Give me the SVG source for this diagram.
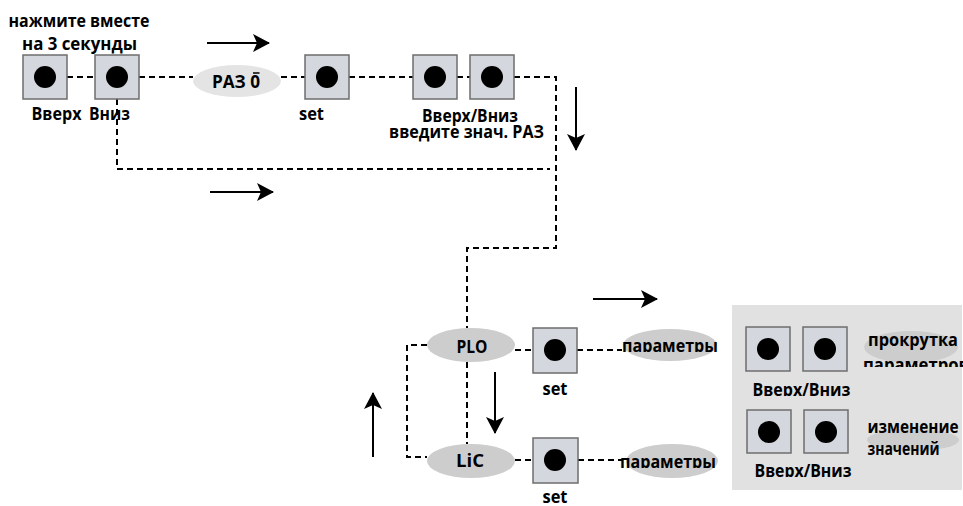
<svg xmlns="http://www.w3.org/2000/svg" width="963" height="506" viewBox="0 0 963 506">
<style>
text{font-family:"Open Sans","Liberation Sans",sans-serif;font-weight:bold;font-size:17.5px;fill:#000}
.m{text-anchor:middle}
.btn rect{fill:#d4d7dd;stroke:#6e6e6e;stroke-width:1.5}
.btn circle{fill:#000}
.ov{fill:#cdcdcd}
.ovl{fill:#e4e4e4}
.dash{fill:none;stroke:#000;stroke-width:2;stroke-dasharray:6 4}
.arr{fill:none;stroke:#000;stroke-width:2;marker-end:url(#ah)}
</style>
<defs>
<marker id="ah" markerUnits="userSpaceOnUse" markerWidth="18" markerHeight="18" viewBox="0 0 18 18" refX="16" refY="9" orient="auto">
<path d="M0,0 L17,9 L0,18 L4,9 z" fill="#000"/>
</marker>
<clipPath id="c1"><rect x="600" y="320" width="140" height="32"/></clipPath>
<clipPath id="c2"><rect x="600" y="440" width="140" height="28"/></clipPath>
<clipPath id="c3"><rect x="740" y="375" width="120" height="21"/></clipPath>
<clipPath id="c4"><rect x="740" y="458" width="120" height="19"/></clipPath>
<clipPath id="c5"><rect x="850" y="350" width="113" height="17"/></clipPath>
</defs>
<rect x="732" y="305" width="230" height="185" fill="#e1e1e1"/>
<g id="connectors">
<path class="dash" d="M67,77 H95"/>
<path class="dash" d="M139,77 H193"/>
<path class="dash" d="M281,77 H305"/>
<path class="dash" d="M349,77 H413"/>
<path class="dash" d="M457,77 H470"/>
<path class="dash" d="M514,77 H556 V248 H467 V328"/>
<path class="dash" d="M117,99 V169 H550"/>
<path class="dash" d="M427,345 H407 V457 H427"/>
<path class="dash" d="M467,362 V444"/>
<path class="dash" d="M515,350 H533"/>
<path class="dash" d="M577,350 H622"/>
<path class="dash" d="M515,460 H533"/>
<path class="dash" d="M578,460 H622"/>
<path class="arr" d="M207,43 H269"/>
<path class="arr" d="M576,87 V150"/>
<path class="arr" d="M210,192 H273"/>
<path class="arr" d="M593,299 H657"/>
<path class="arr" d="M495,372 V433"/>
<path class="arr" d="M373,457 V393"/>
</g>
<g id="hint">
<text class="m" x="79" y="27" textLength="141" lengthAdjust="spacingAndGlyphs">нажмите вместе</text>
<text class="m" x="79.5" y="50" textLength="115" lengthAdjust="spacingAndGlyphs">на 3 секунды</text>
</g>
<g id="btn-up" class="btn"><rect x="23" y="55" width="44" height="44"/><circle cx="45" cy="77" r="11"/><text class="m" x="56.5" y="120" textLength="50" lengthAdjust="spacingAndGlyphs">Вверх</text></g>
<g id="btn-down" class="btn"><rect x="95" y="55" width="44" height="44"/><circle cx="117" cy="77" r="11"/><text class="m" x="109.5" y="120" textLength="41" lengthAdjust="spacingAndGlyphs">Вниз</text></g>
<g id="raz0"><ellipse class="ovl" cx="237" cy="81" rx="44" ry="16"/><text class="m" x="236" y="88" textLength="48" lengthAdjust="spacingAndGlyphs">РАЗ 0</text><line x1="253" y1="73" x2="259.5" y2="73" stroke="#000" stroke-width="1.5"/></g>
<g id="btn-set1" class="btn"><rect x="305" y="55" width="44" height="44"/><circle cx="327" cy="77" r="11"/><text class="m" x="311.5" y="120" textLength="25" lengthAdjust="spacingAndGlyphs">set</text></g>
<g id="btn-updown1" class="btn"><rect x="413" y="55" width="44" height="44"/><circle cx="435" cy="77" r="11"/><rect x="470" y="55" width="44" height="44"/><circle cx="492" cy="77" r="11"/><text class="m" x="470" y="122" textLength="96" lengthAdjust="spacingAndGlyphs">Вверх/Вниз</text><text class="m" x="466.5" y="138" textLength="155" lengthAdjust="spacingAndGlyphs">введите знач. РАЗ</text></g>
<g id="plo"><ellipse class="ov" cx="471" cy="345" rx="44" ry="17"/><text class="m" x="472" y="353" textLength="31" lengthAdjust="spacingAndGlyphs">PLO</text></g>
<g id="lic"><ellipse class="ov" cx="471" cy="461" rx="44" ry="17"/><text class="m" x="470" y="467" textLength="28" lengthAdjust="spacingAndGlyphs">LiC</text></g>
<g id="btn-set2" class="btn"><rect x="533" y="328" width="44" height="45"/><circle cx="555" cy="350" r="11"/><text class="m" x="555" y="395" textLength="25" lengthAdjust="spacingAndGlyphs">set</text></g>
<g id="btn-set3" class="btn"><rect x="533" y="438" width="45" height="45"/><circle cx="555" cy="460" r="11"/><text class="m" x="555" y="503" textLength="25" lengthAdjust="spacingAndGlyphs">set</text></g>
<g id="params1"><ellipse class="ov" cx="670" cy="345" rx="47" ry="16"/><text class="m" x="670" y="352" textLength="96" lengthAdjust="spacingAndGlyphs" clip-path="url(#c1)">параметры</text></g>
<g id="params2"><ellipse class="ov" cx="672" cy="461" rx="46" ry="17"/><text class="m" x="668" y="468" textLength="96" lengthAdjust="spacingAndGlyphs" clip-path="url(#c2)">параметры</text></g>
<g id="panel-updown1" class="btn"><rect x="746" y="327" width="44" height="44"/><circle cx="768" cy="349" r="11"/><rect x="803" y="327" width="44" height="44"/><circle cx="825" cy="349" r="11"/><text class="m" x="801.5" y="396" textLength="98" lengthAdjust="spacingAndGlyphs" clip-path="url(#c3)">Вверх/Вниз</text></g>
<g id="panel-updown2" class="btn"><rect x="747" y="410" width="44" height="43"/><circle cx="769" cy="432" r="11"/><rect x="804" y="410" width="44" height="43"/><circle cx="826" cy="432" r="11"/><text class="m" x="803" y="477" textLength="97" lengthAdjust="spacingAndGlyphs" clip-path="url(#c4)">Вверх/Вниз</text></g>
<g id="scroll"><ellipse class="ov" cx="911" cy="347" rx="47" ry="16"/><text class="m" x="913" y="346" textLength="90" lengthAdjust="spacingAndGlyphs">прокрутка</text><text class="m" x="916" y="371" textLength="106" lengthAdjust="spacingAndGlyphs" clip-path="url(#c5)">параметров</text></g>
<g id="change"><ellipse class="ov" cx="913" cy="440" rx="46" ry="11"/><text x="867.5" y="433" textLength="91" lengthAdjust="spacingAndGlyphs">изменение</text><text x="867.5" y="455" textLength="72" lengthAdjust="spacingAndGlyphs">значений</text></g>
</svg>
